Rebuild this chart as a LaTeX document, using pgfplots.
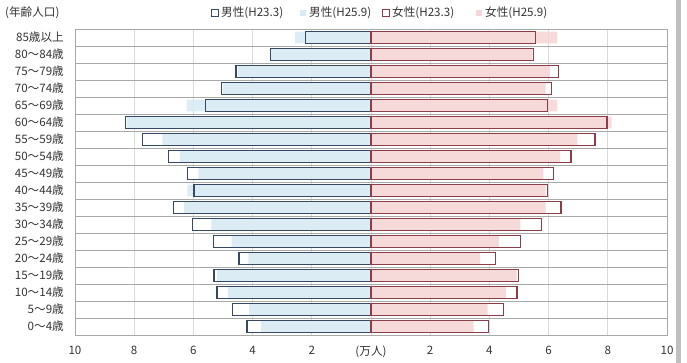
\documentclass[border=0pt]{standalone}
\usepackage{pgfplots}
\pgfplotsset{compat=1.18}
\usepackage{pgfplotstable}
\usepackage{fontspec}
\setmainfont{Noto Sans CJK JP}

\definecolor{mline}{RGB}{55,72,98}
\definecolor{mfill}{RGB}{216,235,245}
\definecolor{fline}{RGB}{140,62,72}
\definecolor{ffill}{RGB}{246,214,214}
\definecolor{hgrid}{RGB}{168,168,168}
\definecolor{vgrid}{RGB}{218,218,218}
\newcommand{\lbl}{\fontsize{11.6bp}{13bp}\selectfont}

% population by age group (10k persons): male/female, H23.3 and H25.9
\pgfplotstableread{
idx m23  m25  f23  f25
0   4.19 3.72 3.98 3.47
1   4.67 4.12 4.47 3.94
2   5.20 4.83 4.93 4.56
3   5.30 5.20 4.99 4.92
4   4.46 4.14 4.21 3.69
5   5.33 4.71 5.06 4.32
6   6.04 5.39 5.75 5.05
7   6.68 6.31 6.42 5.90
8   5.98 6.20 5.96 5.90
9   6.19 5.83 6.16 5.82
10  6.85 6.45 6.76 6.39
11  7.71 7.05 7.57 6.97
12  8.29 8.25 7.97 8.13
13  5.60 6.23 5.96 6.30
14  5.06 5.00 6.10 5.90
15  4.56 4.50 6.34 6.05
16  3.40 3.38 5.50 5.45
17  2.21 2.57 5.56 6.30
}\pop

\begin{document}
\begin{tikzpicture}
\path[use as bounding box] (-75bp,-28bp) rectangle (612bp,335bp);
\begin{axis}[
  scale only axis,
  width=592bp, height=306bp,
  font=\lbl,
  xbar, bar shift=0pt, bar width=0.68,
  xmin=-10, xmax=10, ymin=-0.5, ymax=17.5,
  xtick={-10,-8,...,10},
  xticklabels={10,8,6,4,2,(万人),2,4,6,8,10},
  ytick={0,...,17},
  yticklabels={0～4歳,5～9歳,10～14歳,15～19歳,20～24歳,25～29歳,30～34歳,35～39歳,40～44歳,45～49歳,50～54歳,55～59歳,60～64歳,65～69歳,70～74歳,75～79歳,80～84歳,85歳以上},
  minor ytick={-0.5,0.5,...,17.5},
  xmajorgrids, yminorgrids,
  major grid style={vgrid, line width=0.8bp},
  minor grid style={hgrid, line width=0.8bp},
  axis line style={hgrid, line width=0.8bp},
  major tick length=0pt, minor tick length=0pt,
  /pgf/number format/assume math mode=true,
  xticklabel style={inner sep=0pt, yshift=-11bp, text=black!80},
  yticklabel style={inner sep=0pt, xshift=-11bp, text=black!80},
]
\addplot[draw=mline, fill=white, line width=1.3bp] table[x expr=-\thisrow{m23}, y=idx] {\pop};
\addplot[draw=none, fill=mfill, fill opacity=0.9] table[x expr=-\thisrow{m25}, y=idx] {\pop};
\addplot[draw=fline, fill=white, line width=1.3bp] table[x=f23, y=idx] {\pop};
\addplot[draw=none, fill=ffill, fill opacity=0.9] table[x=f25, y=idx] {\pop};
% outlines of the earlier survey on top of the later fills
\addplot[draw=mline, fill=none, line width=1.3bp] table[x expr=-\thisrow{m23}, y=idx] {\pop};
\addplot[draw=fline, fill=none, line width=1.3bp] table[x=f23, y=idx] {\pop};
\end{axis}
% legend
\begin{scope}[every node/.style={anchor=west, inner sep=0pt, text=black!80, font=\lbl}]
  \draw[mline, line width=1.1bp, fill=white] (136.5bp,318.5bp) rectangle (143.5bp,325.5bp);
  \node at (146bp,322bp) {男性(H23.3)};
  \fill[mfill] (225bp,319bp) rectangle (231bp,325bp);
  \node at (234bp,322bp) {男性(H25.9)};
  \draw[fline, line width=1.1bp, fill=white] (307.5bp,318.5bp) rectangle (314.5bp,325.5bp);
  \node at (317bp,322bp) {女性(H23.3)};
  \fill[ffill] (401bp,319bp) rectangle (407bp,325bp);
  \node at (410bp,322bp) {女性(H25.9)};
  \node at (-70bp,322bp) {(年齢人口)};
\end{scope}
\fill[black!25] (601bp,-28bp) rectangle (606bp,335bp);
\end{tikzpicture}
\end{document}
